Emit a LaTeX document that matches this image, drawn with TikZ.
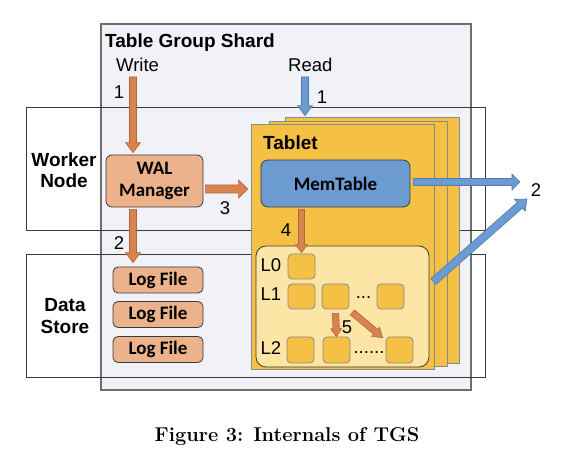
\documentclass[tikz,border=0pt]{standalone}
\usepackage{fontspec}
\newfontfamily\arialf{Liberation Sans}
\newfontfamily\calibrif{Carlito}
\usetikzlibrary{calc}
\definecolor{tgsfill}{HTML}{F1F1F8}
\definecolor{tgsline}{HTML}{6E6E6E}
\definecolor{outline}{HTML}{3A3A3A}
\definecolor{orfill}{HTML}{D9834F}
\definecolor{orline}{HTML}{B0673A}
\definecolor{walfill}{HTML}{EBB28B}
\definecolor{bluefill}{HTML}{6C9BD2}
\definecolor{blueline}{HTML}{4C7CB3}
\definecolor{tabfill}{HTML}{F5C144}
\definecolor{tabline}{HTML}{8A8A8A}
\definecolor{lsmfill}{HTML}{FCE5A5}
\tikzset{
  lbl/.style={font=\arialf\fontsize{18.5}{21}\selectfont, inner sep=0pt},
  blbl/.style={font=\arialf\bfseries\fontsize{19}{21.5}\selectfont, inner sep=0pt, align=center},
  cbox/.style={font=\calibrif\bfseries\fontsize{19}{21.5}\selectfont, align=center, inner sep=0pt, draw=outline, line width=0.8pt},
  orarr/.style={fill=orfill, draw=orline, line width=0.6pt},
  blarr/.style={fill=bluefill, draw=blueline, line width=0.6pt},
  tablet/.style={draw=tabline, fill=tabfill, line width=0.8pt, minimum height=245pt, inner sep=0pt},
  small/.style={draw=tabline, fill=tabfill, line width=0.8pt, rounded corners=4pt, minimum width=27pt, minimum height=25pt, inner sep=0pt},
  logf/.style={cbox, fill=walfill, rounded corners=5pt, minimum width=90pt, minimum height=26pt},
}
% style, from, to, shaft half width, head half width, head length
\newcommand{\blockarr}[6]{%
  \path[#1] let \p1=(#2), \p2=(#3), \n1={atan2(\y2-\y1,\x2-\x1)}, \n2={veclen(\x2-\x1,\y2-\y1)}, \n3={\n2-#6} in
  ($(\p1)+(\n1+90:#4)$) -- ($(\p1)+(\n1:\n3)+(\n1+90:#4)$) -- ($(\p1)+(\n1:\n3)+(\n1+90:#5)$) -- (\p2)
  -- ($(\p1)+(\n1:\n3)+(\n1-90:#5)$) -- ($(\p1)+(\n1:\n3)+(\n1-90:#4)$) -- ($(\p1)+(\n1-90:#4)$) -- cycle;}
\begin{document}
\begin{tikzpicture}[x=1pt,y=-1pt]
\useasboundingbox (0,0) rectangle (582,470);
% Table group shard
\node[draw=tgsline, fill=tgsfill, line width=1.1pt, minimum width=370pt, minimum height=366pt, inner sep=0pt] (tgs) at (286,207) {};
\node[draw=outline, line width=0.8pt, minimum width=459pt, minimum height=123pt, inner sep=0pt] (worker) at (255.5,168.5) {};
\node[draw=outline, line width=0.8pt, minimum width=459pt, minimum height=123pt, inner sep=0pt] (store) at (255.5,315.5) {};
\node[blbl] (wlab) at (64,170) {Worker\\Node};
\node[blbl] (slab) at (65,316) {Data\\Store};
\node[blbl, anchor=base west] (tgslab) at (105,48) {Table Group Shard};
\node[lbl, anchor=base west] (write) at (116,72) {Write};
\node[lbl, anchor=base west] (read) at (288,72) {Read};
\coordinate (wtop) at (133,77);
\coordinate (rtop) at (305,77);
% WAL and logs
\node[cbox, fill=walfill, rounded corners=6pt, minimum width=97pt, minimum height=52pt] (wal) at (154.5,181) {WAL\\Manager};
\node[logf] (log1) at (158,280) {Log File};
\node[logf] (log2) at (158,314.5) {Log File};
\node[logf] (log3) at (158,349.5) {Log File};
% tablets
\node[tablet, minimum width=174pt, minimum height=246pt] (back) at (372,240) {};
\node[tablet, minimum width=178pt] (mid) at (358,243.5) {};
\node[tablet, minimum width=183pt] (front) at (342.5,246.5) {};
\node[blbl, anchor=base west] (tablab) at (263,150) {Tablet};
\node[cbox, fill=bluefill, rounded corners=7pt, minimum width=149pt, minimum height=47pt] (mem) at (335.5,183.5) {MemTable};
\node[draw=outline, fill=lsmfill, line width=0.8pt, rounded corners=10pt, minimum width=173pt, minimum height=121pt, inner sep=0pt] (lsm) at (342.5,306.5) {};
\node[small] (s0) at (301.5,266.5) {};
\node[small] (s1a) at (301.5,296.5) {};
\node[small] (s1b) at (335.5,296.5) {};
\node[small] (s1c) at (390.5,296.5) {};
\node[small, minimum height=26pt] (s2a) at (300.5,350) {};
\node[small, minimum height=26pt] (s2b) at (336.5,350) {};
\node[small, minimum height=26pt] (s2c) at (399.5,350) {};
\node[lbl] (l0) at (271,265) {L0};
\node[lbl] (l1) at (271,294) {L1};
\node[lbl] (l2) at (271,348) {L2};
\node[lbl, anchor=base] (dots1) at (363.5,299) {...};
\node[lbl, anchor=base] (dots2) at (369,354) {......};
% numbers
\node[lbl] (n1a) at (119,92) {1};
\node[lbl] (n1b) at (322,97) {1};
\node[lbl] (n3) at (225,208) {3};
\node[lbl] (n2a) at (119,243) {2};
\node[lbl] (n4) at (286,230) {4};
\node[lbl] (n2b) at (536,190) {2};
\node[lbl] (n5) at (347,327) {5};
\coordinate (c2a) at (520,182);
\coordinate (c2b) at (527,199);
% arrows
\blockarr{orarr}{wtop}{[yshift=2pt]wal.north -| wtop}{3.5pt}{7.5pt}{10pt}
\blockarr{orarr}{[yshift=-2pt]wal.south -| wtop}{[yshift=4pt]log1.north -| wtop}{3.5pt}{7.5pt}{10pt}
\blockarr{orarr}{$(wal.east)+(2,8)$}{$(front.west |- {$(wal.east)+(2,8)$})+(-3,0)$}{4pt}{9pt}{9pt}
\blockarr{blarr}{rtop}{[yshift=1pt]back.north -| rtop}{3.5pt}{7.5pt}{10pt}
\blockarr{blarr}{$(mem.east)+(3,-1.5)$}{c2a}{3.5pt}{8pt}{8pt}
\blockarr{blarr}{$(lsm.east)+(4,-25)$}{c2b}{3.8pt}{8pt}{9pt}
\blockarr{orarr}{[yshift=-2pt]mem.south -| s0}{[yshift=1pt]s0.north}{3pt}{6pt}{8pt}
\blockarr{orarr}{[yshift=-4pt]s1b.south}{s2b.north}{3.2pt}{5.5pt}{8pt}
\blockarr{orarr}{$(s1b.south east)+(3,3)$}{$(s2c.north west)+(-3,1)$}{3.2pt}{6pt}{9pt}
% caption
\node[font=\bfseries\fontsize{20}{23}\selectfont, inner sep=0pt] (cap) at (287,437) {Figure 3: Internals of TGS};
\end{tikzpicture}
\end{document}
